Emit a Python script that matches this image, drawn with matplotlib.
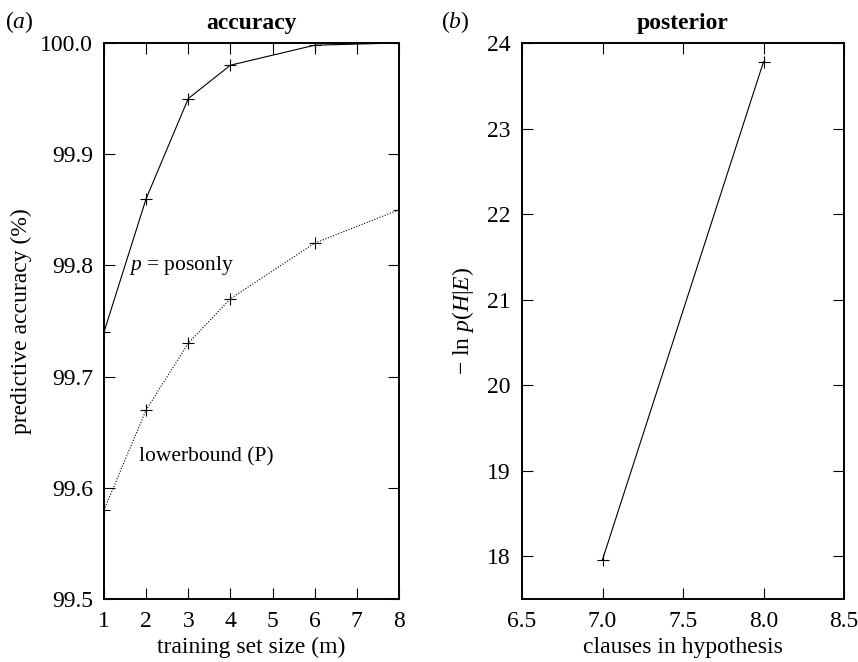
import numpy as np
import matplotlib as mpl
import matplotlib.pyplot as plt

mpl.rcParams.update({
    "font.family": "serif",
    "font.serif": ["Liberation Serif", "DejaVu Serif"],
    "mathtext.fontset": "custom",
    "mathtext.rm": "Liberation Serif",
    "mathtext.it": "Liberation Serif:italic",
    "mathtext.bf": "Liberation Serif:bold",
    "font.size": 17,
    "axes.linewidth": 1.4,
    "xtick.direction": "in", "ytick.direction": "in",
    "xtick.top": True, "ytick.right": True,
    "xtick.major.size": 8, "ytick.major.size": 8,
    "xtick.major.width": 0.8, "ytick.major.width": 0.8,
    "xtick.major.pad": 9, "ytick.major.pad": 8,
})

# ====== Data ======
train_size = [1, 2, 3, 4, 6, 8]
acc_posonly = [99.74, 99.86, 99.95, 99.98, 99.998, 100.0]
acc_lowerbound = [99.58, 99.67, 99.73, 99.77, 99.82, 99.85]

clauses = [7.0, 8.0]
neg_log_post = [17.96, 23.78]

# ====== Figure ======
fig = plt.figure(figsize=(8.58, 6.62), dpi=100)

# --- Panel a: accuracy ---
ax1 = fig.add_axes([0.1212, 0.0952, 0.3438, 0.8399])
ax1.plot(train_size, acc_posonly, color="black", lw=0.8, marker="+", ms=9, mew=0.8)
ax1.plot(train_size, acc_lowerbound, color="black", lw=0.8, ls=(0, (1, 1.5)),
         marker="+", ms=9, mew=0.8)
ax1.set_xlim(1, 8)
ax1.set_ylim(99.5, 100.0)
ax1.set_xticks(range(1, 9))
ax1.set_yticks([99.5, 99.6, 99.7, 99.8, 99.9, 100.0])
ax1.set_yticklabels([f"{v:.1f}" for v in [99.5, 99.6, 99.7, 99.8, 99.9, 100.0]])
ax1.set_xlabel("training set size (m)", labelpad=3)
ax1.set_ylabel("predictive accuracy (%)", labelpad=6)
ax1.set_title("accuracy", fontweight="bold", fontsize=17, pad=10)
ax1.text(1.6, 99.8, "$p$ = posonly", va="center", ha="left", fontsize=15.5)
ax1.text(1.82, 99.628, "lowerbound (P)", va="center", ha="left", fontsize=15.5)
fig.text(0.006, 0.957, "($a$)", fontsize=17, va="baseline")

# --- Panel b: posterior ---
ax2 = fig.add_axes([0.6084, 0.0952, 0.3753, 0.8399])
ax2.plot(clauses, neg_log_post, color="black", lw=0.8, marker="+", ms=9, mew=0.8)
ax2.set_xlim(6.5, 8.5)
ax2.set_ylim(17.5, 24)
ax2.set_xticks([6.5, 7.0, 7.5, 8.0, 8.5])
ax2.set_xticklabels([f"{v:.1f}" for v in [6.5, 7.0, 7.5, 8.0, 8.5]])
ax2.set_yticks(range(18, 25))
ax2.set_xlabel("clauses in hypothesis", labelpad=3)
ax2.set_ylabel(r"$-$ ln $p$($H$|$E$)", labelpad=8)
ax2.set_title("posterior", fontweight="bold", fontsize=17, pad=10)
fig.text(0.514, 0.957, "($b$)", fontsize=17, va="baseline")

fig.savefig("out.png", dpi=100)
